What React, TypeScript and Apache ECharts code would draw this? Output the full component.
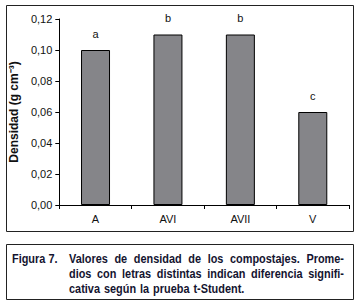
import React, { useEffect, useRef } from "react";
import * as echarts from "echarts";

const categories = ["A", "AVI", "AVII", "V"];
const densityValues = [0.1, 0.11, 0.11, 0.06];
const letters = ["a", "b", "b", "c"];
const yTicks = { min: 0, max: 0.12, interval: 0.02 };
const captionLabel = "Figura 7.";
const captionLines = [
  "Valores de densidad de los compostajes. Prome-",
  "dios con letras distintas indican diferencia signifi-",
  "cativa según la prueba t-Student.",
];

const FONT = "'Liberation Sans', Arial, sans-serif";
const CAP_FONT = "bold 13px " + FONT;
const CAP_SCALE = 0.84;
const CAP_X0 = 69;
const CAP_X1 = 344;
const CAP_COLOR = "#141430";

function captionGraphics() {
  const ctx = document.createElement("canvas").getContext("2d")!;
  ctx.font = "bold 13px 'Liberation Sans', Arial, sans-serif";
  const spaceW = ctx.measureText(" ").width * CAP_SCALE * 1.3;
  const out: any[] = [
    {
      type: "text",
      x: 12,
      y: 259,
      scaleX: CAP_SCALE,
      style: { text: captionLabel, fill: CAP_COLOR, font: CAP_FONT, verticalAlign: "middle" },
    },
  ];
  captionLines.forEach((line, li) => {
    const words = line.split(" ");
    const widths = words.map((w) => ctx.measureText(w).width * CAP_SCALE);
    const total = widths.reduce((a, b) => a + b, 0);
    const last = li === captionLines.length - 1;
    const gap = last || words.length < 2 ? spaceW : (CAP_X1 - CAP_X0 - total) / (words.length - 1);
    let x = CAP_X0;
    words.forEach((w, wi) => {
      out.push({
        type: "text",
        x,
        y: 259 + li * 15,
        scaleX: CAP_SCALE,
        style: { text: w, fill: CAP_COLOR, font: CAP_FONT, verticalAlign: "middle" },
      });
      x += widths[wi] + gap;
    });
  });
  return out;
}

export default function App() {
  const ref = useRef<HTMLDivElement>(null);
  useEffect(() => {
    if (!ref.current) return;
    const chart = echarts.init(ref.current, null, { renderer: "svg" });
    chart.setOption({
      animation: false,
      backgroundColor: "#ffffff",
      grid: { left: 52, top: 19, right: 12, bottom: 103 },
      xAxis: {
        type: "category",
        data: categories,
        axisLine: { lineStyle: { color: "#000", width: 1 } },
        axisTick: { show: true, alignWithLabel: false, length: 4, lineStyle: { color: "#000" } },
        axisLabel: { color: "#111", fontFamily: FONT, fontSize: 11, margin: 8 },
      },
      yAxis: {
        type: "value",
        min: yTicks.min,
        max: yTicks.max,
        interval: yTicks.interval,
        name: "Densidad (g cm⁻³)",
        nameLocation: "middle",
        nameGap: 30,
        nameTextStyle: { color: "#111", fontFamily: FONT, fontSize: 12, fontWeight: "bold" },
        axisLine: { show: true, lineStyle: { color: "#000", width: 1 } },
        axisTick: { show: true, length: 4, lineStyle: { color: "#000" } },
        splitLine: { show: false },
        axisLabel: {
          color: "#111",
          fontFamily: FONT,
          fontSize: 11,
          margin: 7,
          formatter: (v: number) => v.toFixed(2).replace(".", ","),
        },
      },
      series: [
        {
          type: "bar",
          data: densityValues,
          barWidth: 29,
          itemStyle: { color: "#858589", borderColor: "#000", borderWidth: 1 },
          label: {
            show: true,
            position: "top",
            distance: 11,
            color: "#111",
            fontFamily: FONT,
            fontSize: 11,
            formatter: (p: any) => letters[p.dataIndex],
          },
        },
      ],
      graphic: [
        {
          type: "rect",
          shape: { x: 6.5, y: 5.5, width: 347, height: 226 },
          style: { fill: "none", stroke: "#222", lineWidth: 1 },
          silent: true,
        },
        {
          type: "rect",
          shape: { x: 6.5, y: 244.5, width: 347, height: 55 },
          style: { fill: "none", stroke: "#222", lineWidth: 1 },
          silent: true,
        },
        ...captionGraphics(),
      ],
    });
    return () => chart.dispose();
  }, []);
  return (
    <div
      ref={ref}
      style={{ position: "absolute", left: 0, top: 0, width: 361, height: 308 }}
    />
  );
}
